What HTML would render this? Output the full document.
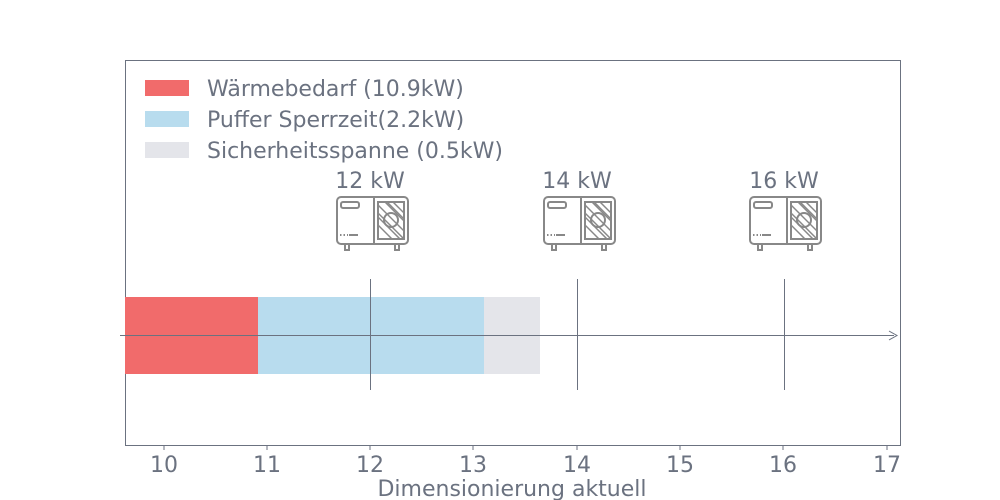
<!DOCTYPE html>
<html><head><meta charset="utf-8"><style>body{margin:0;background:#fff}svg{display:block}text{font-family:"DejaVu Sans","Liberation Sans",sans-serif;fill:#6b7280}</style></head><body>
<svg width="1000" height="500" xmlns="http://www.w3.org/2000/svg">
<defs>
<clipPath id="g"><rect x="41" y="5" width="26" height="37"/></clipPath>
<g id="ic" fill="none" stroke="#888" stroke-width="2">
<rect x="0" y="0" width="71" height="47" rx="4"/>
<rect x="4" y="5" width="18" height="6" rx="2"/>
<line x1="37" y1="0" x2="37" y2="47"/>
<rect x="41" y="5" width="26" height="37"/>
<g clip-path="url(#g)" stroke-width="1.5">
<line x1="30" y1="5" x2="67" y2="42"/><line x1="41" y1="-4" x2="78" y2="33"/><line x1="41" y1="8" x2="75" y2="42"/><line x1="48" y1="5" x2="80" y2="37"/><line x1="33" y1="12" x2="63" y2="42"/><line x1="56" y1="5" x2="80" y2="29"/><line x1="38" y1="25" x2="55" y2="42"/>
</g>
<circle cx="54" cy="23" r="7" fill="none"/>
<line x1="3" y1="38" x2="11" y2="38" stroke-dasharray="1.5 2"/><line x1="12" y1="38" x2="21" y2="38"/>
<rect x="8" y="47" width="4" height="6"/><rect x="58" y="47" width="4" height="6"/>
</g>
</defs>
<rect x="125.5" y="60.5" width="775" height="385" fill="none" stroke="#6b7280" stroke-width="1"/>
<rect x="125" y="297" width="133" height="77" fill="#f16b6b"/>
<rect x="258" y="297" width="226" height="77" fill="#b8dcee"/>
<rect x="484" y="297" width="56" height="77" fill="#e4e5ea"/>
<line x1="120" y1="335.5" x2="894" y2="335.5" stroke="#6b7280"/>
<path d="M889 331 L897 335.5 L889 340" fill="none" stroke="#6b7280"/>
<g stroke="#6b7280"><line x1="370.5" y1="279" x2="370.5" y2="390"/><line x1="577.5" y1="279" x2="577.5" y2="390"/><line x1="784.5" y1="279" x2="784.5" y2="390"/></g>
<use href="#ic" x="337" y="197"/><use href="#ic" x="544" y="197"/><use href="#ic" x="750" y="197"/>
<g font-size="22" text-anchor="middle"><text x="370" y="188">12 kW</text><text x="577" y="188">14 kW</text><text x="784" y="188">16 kW</text></g>
<rect x="145" y="80" width="44" height="16" fill="#f16b6b"/>
<rect x="145" y="111" width="44" height="16" fill="#b8dcee"/>
<rect x="145" y="142" width="44" height="16" fill="#e4e5ea"/>
<g font-size="22"><text x="207" y="96">Wärmebedarf (10.9kW)</text><text x="207" y="127">Puffer Sperrzeit(2.2kW)</text><text x="207" y="158">Sicherheitsspanne (0.5kW)</text></g>
<g stroke="#6b7280"><line x1="164" y1="445" x2="164" y2="450"/><line x1="267" y1="445" x2="267" y2="450"/><line x1="370" y1="445" x2="370" y2="450"/><line x1="473" y1="445" x2="473" y2="450"/><line x1="577" y1="445" x2="577" y2="450"/><line x1="680" y1="445" x2="680" y2="450"/><line x1="783" y1="445" x2="783" y2="450"/><line x1="887" y1="445" x2="887" y2="450"/></g>
<g font-size="22" text-anchor="middle"><text x="164" y="472">10</text><text x="267" y="472">11</text><text x="370" y="472">12</text><text x="473" y="472">13</text><text x="577" y="472">14</text><text x="680" y="472">15</text><text x="783" y="472">16</text><text x="887" y="472">17</text>
<text x="512" y="496">Dimensionierung aktuell</text></g>
</svg>
</body></html>
